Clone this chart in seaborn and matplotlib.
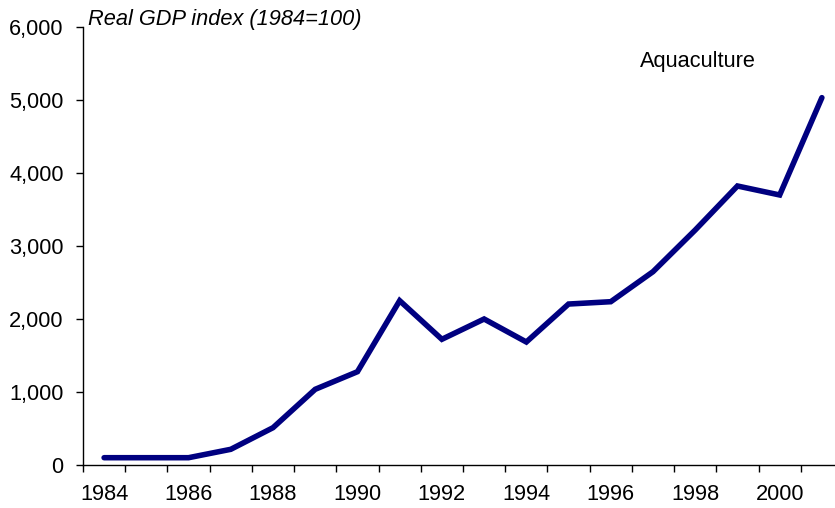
import matplotlib.pyplot as plt
import numpy as np
import pandas as pd
import seaborn as sns
from matplotlib.ticker import FuncFormatter, MultipleLocator

years = list(range(1984, 2002))
gdp_index = [100, 100, 100, 215, 511, 1037, 1278, 2251, 1722, 2000,
             1685, 2205, 2237, 2648, 3219, 3822, 3699, 5032]
tick_years = list(range(1984, 2001, 2))

data = pd.DataFrame({"year": years, "index": gdp_index})

sns.set_style("white")
plt.rcParams["font.family"] = ["Liberation Sans", "DejaVu Sans"]
plt.rcParams["text.color"] = "black"
plt.rcParams["xtick.color"] = "black"
plt.rcParams["ytick.color"] = "black"

fig = plt.figure(figsize=(8.35, 5.08), dpi=100)
ax = fig.add_axes([83 / 835, 43 / 508, 760 / 835, 438 / 508])

sns.lineplot(data=data, x="year", y="index", color="#000080", linewidth=4,
             ax=ax, solid_joinstyle="miter")

ax.set_xlim(1983.5, 2001.5)
ax.set_ylim(0, 6000)
ax.set_xticks(tick_years)
ax.xaxis.set_minor_locator(MultipleLocator(1, offset=0.5))
ax.yaxis.set_major_locator(MultipleLocator(1000))
ax.yaxis.set_major_formatter(FuncFormatter(lambda v, p: f"{v:,.0f}"))
ax.tick_params(axis="x", which="major", length=0, pad=14, labelsize=15.7,
               labelcolor="black")
ax.tick_params(axis="x", which="minor", length=5, width=1, color="black",
               direction="out", bottom=True)
ax.tick_params(axis="y", length=5, width=1, color="black", direction="out",
               left=True, pad=9, labelsize=15.7, labelcolor="black")
ax.set_xlabel("")
ax.set_ylabel("")

sns.despine(ax=ax)
for side in ["left", "bottom"]:
    ax.spines[side].set_color("black")
    ax.spines[side].set_linewidth(1)

fig.text(88 / 835, 1 - 19 / 508, "Real GDP index (1984=100)", style="italic",
         fontsize=15.7, va="center", ha="left", color="black")
fig.text(640 / 835, 1 - 61 / 508, "Aquaculture", fontsize=15.7,
         va="center", ha="left", color="black")

fig.savefig("out.png", dpi=100)
